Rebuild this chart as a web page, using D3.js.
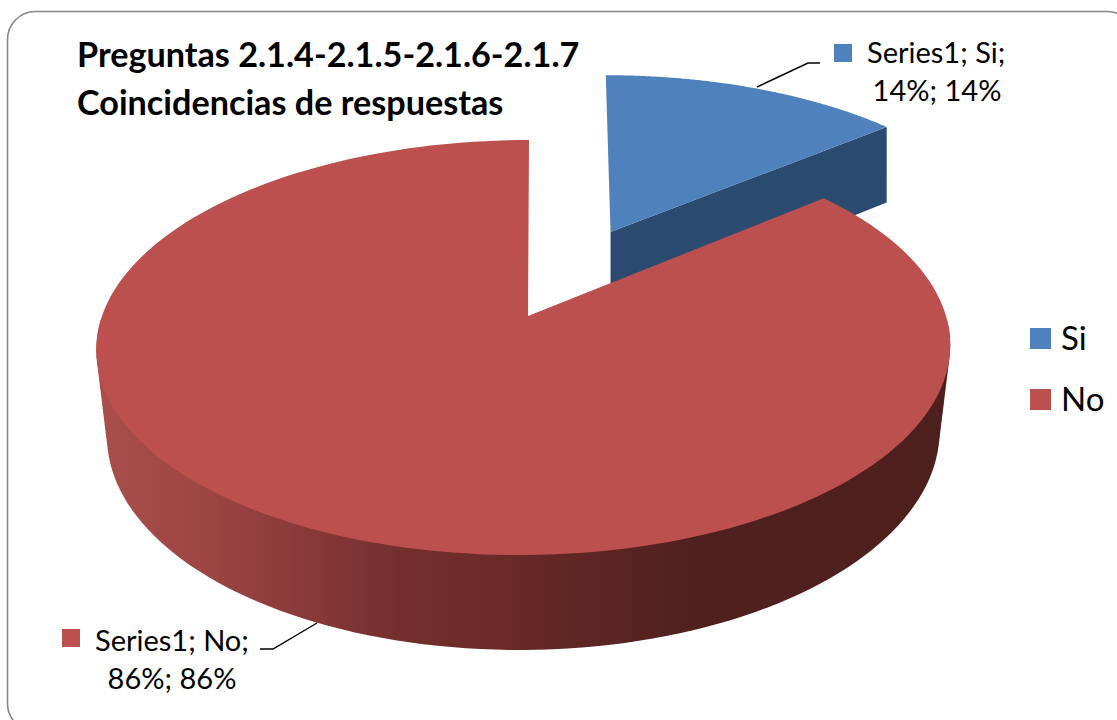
<!DOCTYPE html>
<html>
<head>
<meta charset="utf-8">
<script src="https://cdn.jsdelivr.net/npm/d3@7"></script>
<style>
	html, body { margin: 0; padding: 0; background: #fff; overflow: hidden; }
	svg { display: block; }
	text { font-family: Lato, "Open Sans", sans-serif; fill: #000; }
</style>
</head>
<body>
<svg id="chart" width="1117" height="720"></svg>
<script>
const categories = ['Si', 'No'];
const values = [14, 86];
const titleLines = ['Preguntas 2.1.4-2.1.5-2.1.6-2.1.7', 'Coincidencias de respuestas'];
const seriesName = 'Series1';

const colors = d3.scaleOrdinal().domain(categories).range(['#4f81bd', '#bb504e']);
const wallColors = d3.scaleOrdinal().domain(categories).range(['#2b4a70', '#7a3533']);

const svg = d3.select('#chart');

// perspective view of the pie disc, fitted by eye to the picture
const cx = 524, cy = 316, radius = 422, persp = 0.152, squash = 202.7, skew = 5;
const depth = 84.5, depthPersp = 0.11;
const explodeBy = { Si: 0.489, No: 0 };
const lowShrink = { Si: 1, No: 0.975 };
const rimNudge = { Si: [2.5, -1], No: [0, 0] };

function project(u, v, low, shrink) {
	const w = 1 - persp * v;
	const x = cx + ((low ? shrink : 1) * radius * u) / w - skew * v;
	const y = cy + (squash * v) / w + (low ? depth / (1 - depthPersp * v) : 0);
	return [x, y];
}

const pie = d3.pie().sort(null).value((d) => d.value);
const slices = pie(categories.map((name, i) => ({ name, value: values[i] })));

function rimAngles(d) {
	return d3.range(0, 181).map((i) => d.startAngle + ((d.endAngle - d.startAngle) * i) / 180);
}

function rim(d, low) {
	const name = d.data.name;
	const mid = (d.startAngle + d.endAngle) / 2;
	const off = explodeBy[name];
	return rimAngles(d).map((a) => {
		const p = project(off * Math.sin(mid) + Math.sin(a), -off * Math.cos(mid) - Math.cos(a), low, lowShrink[name]);
		return [p[0] + rimNudge[name][0], p[1] + rimNudge[name][1]];
	});
}

function apex(d, low) {
	const name = d.data.name;
	const mid = (d.startAngle + d.endAngle) / 2;
	const off = explodeBy[name];
	const p = project(off * Math.sin(mid), -off * Math.cos(mid), low, lowShrink[name]);
	// the red point sits a little right of the disc centre
	return name === 'No' ? [p[0] + 4, p[1]] : [p[0] + 2, p[1]];
}

const line = d3.line().curve(d3.curveLinear);

const defs = svg.append('defs');
const grad = defs.append('linearGradient')
	.attr('id', 'wallRed')
	.attr('gradientUnits', 'userSpaceOnUse')
	.attr('x1', 100).attr('x2', 948).attr('y1', 0).attr('y2', 0);
[[100, '#a94e4b'], [200, '#9e4644'], [320, '#853836'], [400, '#742f2d'], [500, '#6a2a28'], [600, '#5c2523'], [700, '#4f201e'], [948, '#4d1f1d']]
	.forEach((s) => grad.append('stop').attr('offset', (s[0] - 100) / 848).attr('stop-color', s[1]));

// frame runs off the right and bottom of the page
svg.append('rect')
	.attr('x', 7.5).attr('y', 11.5)
	.attr('width', 1128).attr('height', 720)
	.attr('rx', 28).attr('ry', 28)
	.attr('fill', '#fff')
	.attr('stroke', '#868686')
	.attr('stroke-width', 1.6);

const blue = slices[0], red = slices[1];

// blue slice, pulled out and behind the red one
svg.append('path')
	.attr('d', line([apex(blue, false), rim(blue, false).slice(-1)[0], rim(blue, true).slice(-1)[0], apex(blue, true)]) + 'Z')
	.attr('fill', wallColors('Si'));
svg.append('path')
	.attr('d', line([apex(blue, false), ...rim(blue, false)]) + 'Z')
	.attr('fill', colors('Si'));

// red slice: hull of the front of both rims gives the wall outline, top face goes over it
const redTop = rim(red, false), redLow = rim(red, true);
const frontIdx = d3.range(redTop.length).filter((i) => redTop[i][1] >= cy);
const wallHull = d3.polygonHull([...frontIdx.map((i) => redTop[i]), ...frontIdx.map((i) => redLow[i])]);
svg.append('path')
	.attr('d', line(wallHull) + 'Z')
	.attr('fill', 'url(#wallRed)');
svg.append('path')
	.attr('d', line([apex(red, false), ...redTop]) + 'Z')
	.attr('fill', colors('No'));

// title
svg.selectAll('text.title')
	.data(titleLines)
	.enter()
	.append('text')
	.attr('class', 'title')
	.attr('x', 77)
	.attr('y', (d, i) => 67 + i * 48)
	.attr('font-size', 34.2)
	.attr('font-weight', 700)
	.text((d) => d);

// data labels with their leader lines
const labelInfo = [
	{ name: 'Si', sq: [834, 44], x1: 867, cx: 937, y: [63, 101], leader: [[757, 87], [808, 63], [820, 63]] },
	{ name: 'No', sq: [62, 629], x1: 95, cx: 172, y: [651, 689], leader: [[317, 623], [273, 649], [260, 649]] },
];
labelInfo.forEach((l) => {
	const i = categories.indexOf(l.name);
	svg.append('path')
		.attr('d', line(l.leader))
		.attr('fill', 'none')
		.attr('stroke', '#000')
		.attr('stroke-width', 1.4);
	svg.append('rect')
		.attr('x', l.sq[0]).attr('y', l.sq[1])
		.attr('width', 18).attr('height', 18)
		.attr('fill', colors(l.name));
	svg.append('text')
		.attr('x', l.x1).attr('y', l.y[0])
		.attr('font-size', 29)
		.text(`${seriesName}; ${l.name};`);
	svg.append('text')
		.attr('x', l.cx).attr('y', l.y[1])
		.attr('text-anchor', 'middle')
		.attr('font-size', 29)
		.text(`${values[i]}%; ${values[i]}%`);
});

// legend
const legend = svg.selectAll('g.legend')
	.data(categories)
	.enter()
	.append('g')
	.attr('class', 'legend')
	.attr('transform', (d, i) => `translate(1030,${328 + i * 61})`);
legend.append('rect')
	.attr('width', 21).attr('height', 21)
	.attr('fill', (d) => colors(d));
legend.append('text')
	.attr('x', 31).attr('y', 22)
	.attr('font-size', 33)
	.text((d) => d);
</script>
</body>
</html>
